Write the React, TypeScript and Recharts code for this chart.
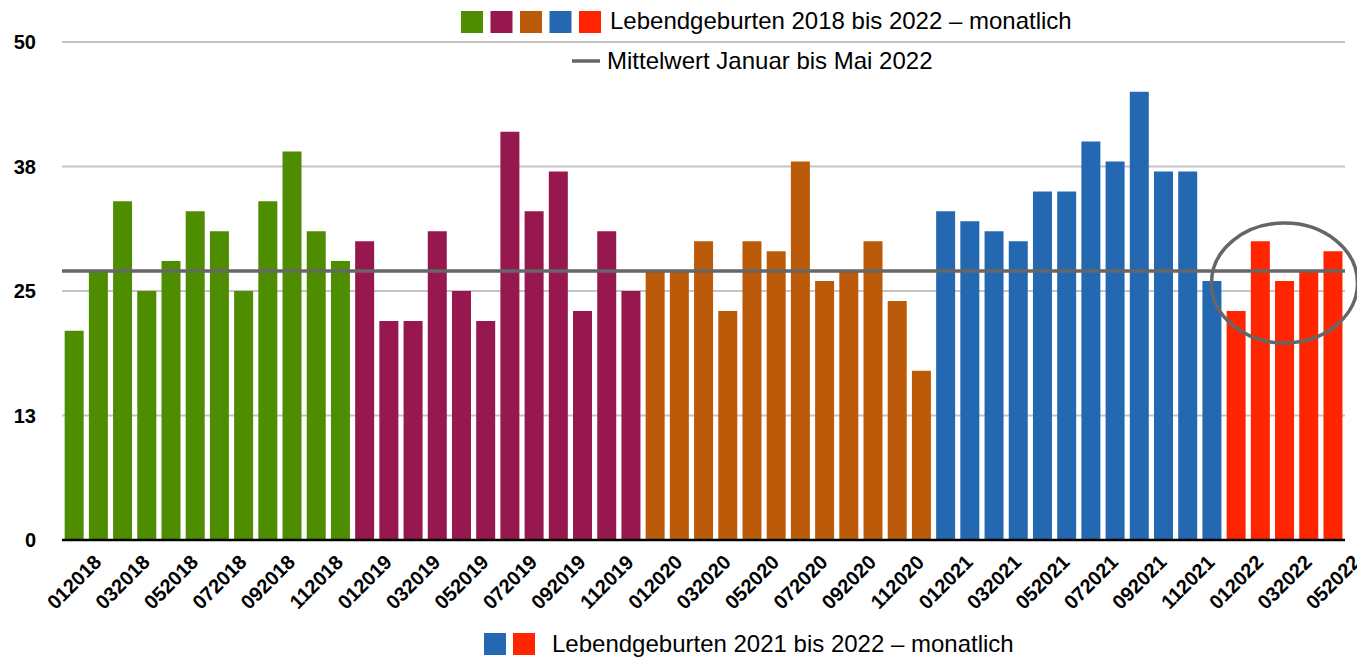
import { Bar, BarChart, CartesianGrid, Cell, ReferenceDot, ReferenceLine, XAxis, YAxis } from "recharts";

const FONT = "'Liberation Sans', Arial, sans-serif";

const months = ["01", "02", "03", "04", "05", "06", "07", "08", "09", "10", "11", "12"];
const years = ["2018", "2019", "2020", "2021", "2022"];

const births2018 = [21, 27, 34, 25, 28, 33, 31, 25, 34, 39, 31, 28];
const births2019 = [30, 22, 22, 31, 25, 22, 41, 33, 37, 23, 31, 25];
const births2020 = [27, 27, 30, 23, 30, 29, 38, 26, 27, 30, 24, 17];
const births2021 = [33, 32, 31, 30, 35, 35, 40, 38, 45, 37, 37, 26];
const births2022 = [23, 30, 26, 27, 29];

const yearColors = ["#4f8d00", "#97174f", "#bb5b09", "#2568b2", "#ff2500"];
const yTicks = [0, 12.5, 25, 37.5, 50];
const meanJanMay2022 = 27;

const legendTop = "Lebendgeburten 2018 bis 2022 – monatlich";
const legendMean = "Mittelwert Januar bis Mai 2022";
const legendBottom = "Lebendgeburten 2021 bis 2022 – monatlich";

const perYear = [births2018, births2019, births2020, births2021, births2022];
const data = perYear.flatMap((vals, yi) =>
  vals.map((v, mi) => ({ month: months[mi] + years[yi], births: v, year: yi }))
);

const XTick = (props: any) => {
  const { x, y, payload } = props;
  const cy = y + 42;
  return (
    <text
      x={x}
      y={cy}
      textAnchor="middle"
      dominantBaseline="central"
      transform={`rotate(-45 ${x} ${cy})`}
      fontFamily={FONT}
      fontWeight="bold"
      fontSize={20}
      fill="#000"
    >
      {payload.value}
    </text>
  );
};

const Ellipse = (props: any) => (
  <ellipse cx={props.cx} cy={props.cy} rx={73} ry={60} fill="none" stroke="#666" strokeWidth={3.5} />
);

export default function App() {
  return (
    <div style={{ position: "absolute", left: 0, top: 0, width: 1357, height: 657, background: "#fff", fontFamily: FONT }}>
      <BarChart width={1357} height={657} data={data} margin={{ top: 42, right: 12, bottom: 0, left: 0 }} barCategoryGap="11%">
        <CartesianGrid vertical={false} stroke="#c4c4c4" strokeWidth={2} />
        <XAxis
          dataKey="month"
          interval={1}
          height={117}
          tickLine={false}
          tickSize={0}
          tickMargin={0}
          axisLine={{ stroke: "#000", strokeWidth: 2.5 }}
          tick={<XTick />}
        />
        <YAxis
          width={62}
          domain={[0, 50]}
          ticks={yTicks}
          tickFormatter={(v: number) => String(Math.round(v))}
          axisLine={false}
          tickLine={false}
          tickSize={0}
          tickMargin={26}
          tick={{ fill: "#000", fontSize: 20, fontWeight: "bold", fontFamily: FONT }}
        />
        <Bar dataKey="births" isAnimationActive={false}>
          {data.map((d, i) => (
            <Cell key={i} fill={yearColors[d.year]} />
          ))}
        </Bar>
        <ReferenceLine y={meanJanMay2022} stroke="#666" strokeWidth={3.5} />
        <ReferenceDot x="032022" y={25.8} shape={<Ellipse />} />
      </BarChart>
      <svg width={1357} height={657} style={{ position: "absolute", left: 0, top: 0, pointerEvents: "none" }}>
        {yearColors.map((c, i) => (
          <rect key={i} x={461 + i * 29.5} y={11} width={22} height={22} fill={c} />
        ))}
        <text x={610} y={29} fontFamily={FONT} fontSize={24} fill="#000">{legendTop}</text>
        <line x1={572} x2={600} y1={61} y2={61} stroke="#666" strokeWidth={3.5} />
        <text x={607} y={69} fontFamily={FONT} fontSize={24} fill="#000">{legendMean}</text>
        <rect x={484} y={633} width={22} height={22} fill={yearColors[3]} />
        <rect x={513} y={633} width={22} height={22} fill={yearColors[4]} />
        <text x={552} y={652} fontFamily={FONT} fontSize={24} fill="#000">{legendBottom}</text>
      </svg>
    </div>
  );
}
